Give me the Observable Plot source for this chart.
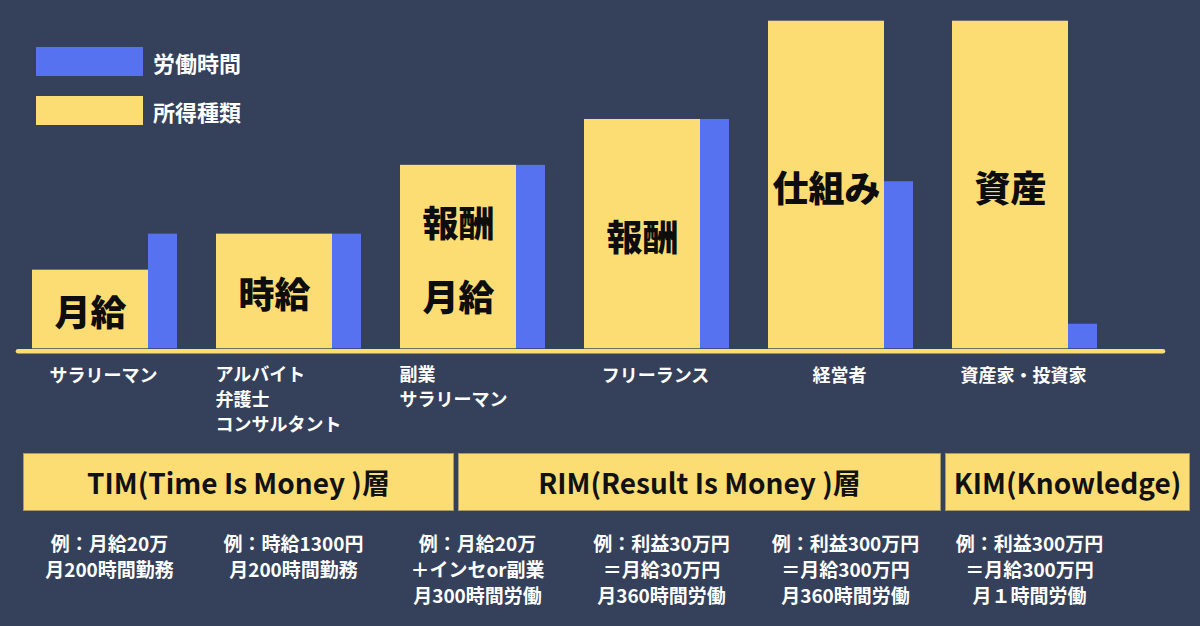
<!DOCTYPE html>
<html>
<head>
<meta charset="utf-8">
<script src="https://cdn.jsdelivr.net/npm/d3@7"></script>
<script src="https://cdn.jsdelivr.net/npm/@observablehq/plot@0.6"></script>
<style>
  html, body { margin: 0; padding: 0; background: #35405a; }
  #wrap { position: relative; width: 1200px; height: 626px; overflow: hidden;
          font-family: "Noto Sans CJK JP", "Noto Sans", sans-serif; }
  #wrap svg { position: absolute; left: 0; top: 0; }
  .legend-item { position: absolute; left: 36px; display: flex; align-items: center; }
  .swatch { width: 107px; height: 29px; }
  .legend-item span { margin-left: 10px; color: #fff; font-weight: 700; font-size: 22px; line-height: 1; }
  .tier { position: absolute; top: 453px; height: 58px; box-sizing: border-box;
          display: flex; align-items: center; justify-content: center;
          font-weight: 700; font-size: 28px; color: #111; border: 1px solid #a89a66; white-space: nowrap; }
</style>
</head>
<body>
<div id="wrap"></div>
<script>
// ---- data ----
const categories = ["サラリーマン", "アルバイト\n弁護士\nコンサルタント", "副業\nサラリーマン", "フリーランス", "経営者", "資産家・投資家"];
const incomeTypes = ["月給", "時給", "報酬\n月給", "報酬", "仕組み", "資産"];
const incomeLevel = [24, 35, 56, 70, 100, 100];   // 所得種類 (relative height)
const laborHours  = [35, 35, 56, 70, 51, 7.5];    // 労働時間 (relative height)
const examples = [
  "例：月給20万\n月200時間勤務",
  "例：時給1300円\n月200時間勤務",
  "例：月給20万\n＋インセor副業\n月300時間労働",
  "例：利益30万円\n＝月給30万円\n月360時間労働",
  "例：利益300万円\n＝月給300万円\n月360時間労働",
  "例：利益300万円\n＝月給300万円\n月１時間労働"
];
const seriesNames = ["労働時間", "所得種類"];
const tierLabels = ["TIM(Time Is Money )層", "RIM(Result Is Money )層", "KIM(Knowledge)"];

// ---- styling ----
const YELLOW = "#fbdd74";
const BLUE = "#5672f0";
const FONT = "Noto Sans CJK JP";

const rows = categories.map((c, i) => ({
  category: c,
  incomeType: incomeTypes[i],
  income: incomeLevel[i],
  hours: laborHours[i],
  example: examples[i],
  multiline: c.includes("\n")
}));

const chart = Plot.plot({
  width: 1200,
  height: 626,
  marginLeft: 18,
  marginRight: 37,
  x: { type: "band", domain: categories, range: [-2, 1102], padding: 0, axis: null },
  y: { domain: [0, 100], range: [348.3, 20.7], axis: null },
  style: { fontFamily: FONT, background: "transparent", overflow: "visible" },
  marks: [
    Plot.barY(rows, { x: "category", y: "income", fill: YELLOW, insetLeft: 34, insetRight: 34 }),
    Plot.barY(rows, { x: "category", y: "hours", fill: BLUE, insetLeft: 150, insetRight: 5 }),
    Plot.ruleY([0], { stroke: YELLOW, strokeWidth: 4.5, strokeLinecap: "round", dy: 2.5 }),
    Plot.text(rows, { x: "category", y: d => d.income / 2, text: "incomeType",
      fontSize: 36, fontWeight: 900, fill: "#0d0d0d", lineHeight: 2.08, dy: -7 }),
    Plot.text(rows.filter(d => !d.multiline), { x: "category", y: () => 0, text: "category",
      fontSize: 18, fontWeight: 700, fill: "#ffffff", lineAnchor: "top", dy: 20.7, dx: 13 }),
    Plot.text(rows.filter(d => d.multiline), { x: "category", y: () => 0, text: "category",
      fontSize: 18, fontWeight: 700, fill: "#ffffff", lineAnchor: "top", lineHeight: 1.39,
      textAnchor: "start", dy: 14.7, dx: -59 }),
    Plot.text(rows, { x: "category", y: () => 0, text: "example",
      fontSize: 19, fontWeight: 700, fill: "#ffffff", lineAnchor: "top", lineHeight: 1.35,
      dy: 184.4, dx: 19 })
  ]
});

const wrap = document.getElementById("wrap");
wrap.appendChild(chart);

// legend (overlaid in the upper-left corner)
const legendColors = [BLUE, YELLOW];
const legendTops = [47, 96];
seriesNames.forEach((name, i) => {
  const item = document.createElement("div");
  item.className = "legend-item";
  item.style.top = legendTops[i] + "px";
  const sw = document.createElement("div");
  sw.className = "swatch";
  sw.style.background = legendColors[i];
  const lab = document.createElement("span");
  lab.textContent = name;
  item.appendChild(sw);
  item.appendChild(lab);
  wrap.appendChild(item);
});

// tier boxes below the chart
const tierBoxes = [{ left: 23, width: 431 }, { left: 458, width: 483 }, { left: 945, width: 245 }];
tierLabels.forEach((t, i) => {
  const b = document.createElement("div");
  b.className = "tier";
  b.style.left = tierBoxes[i].left + "px";
  b.style.width = tierBoxes[i].width + "px";
  b.style.background = YELLOW;
  b.textContent = t;
  wrap.appendChild(b);
});
</script>
</body>
</html>
